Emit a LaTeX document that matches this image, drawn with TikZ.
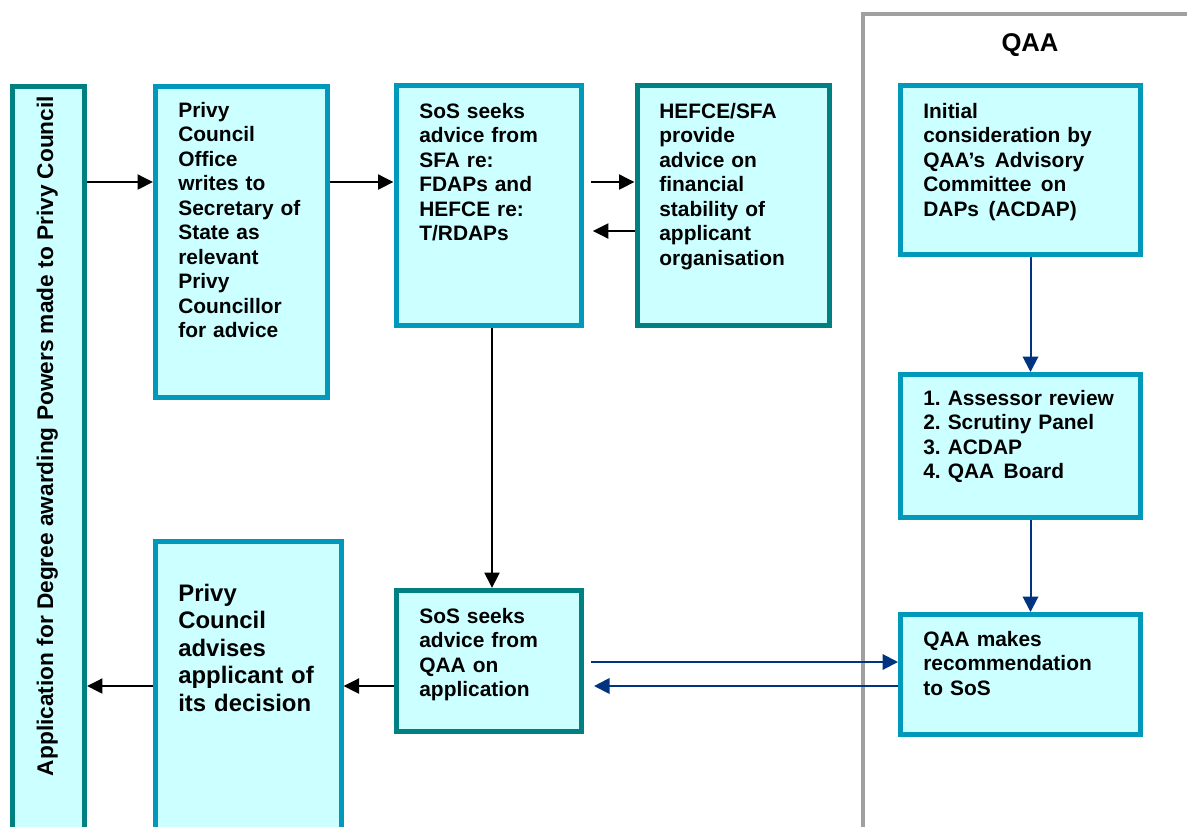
\documentclass[tikz,border=0pt]{standalone}
\usepackage{fontspec}
\setmainfont{Liberation Sans}
\usetikzlibrary{arrows.meta,fit,calc}
\definecolor{boxfill}{RGB}{204,255,255}
\definecolor{lightedge}{RGB}{0,153,187}
\definecolor{darkedge}{RGB}{0,128,128}
\definecolor{navyline}{RGB}{0,51,128}
\definecolor{qaagray}{RGB}{160,160,160}
\frenchspacing
\newcommand{\wsp}{\hspace{0.12em}\ }
\begin{document}
\begin{tikzpicture}[x=0.02cm,y=-0.02cm,
 boxbase/.style={rectangle,fill=boxfill,line width=0.1cm,inner sep=0pt},
 lbox/.style={boxbase,draw=lightedge},
 dbox/.style={boxbase,draw=darkedge},
 txt/.style={anchor=base west,inner sep=0pt,align=left,text width=4.2cm,font=\fontsize{11.9}{13.96}\selectfont\bfseries},
 bigtxt/.style={txt,font=\fontsize{13.6}{15.7}\selectfont\bfseries},
 blk/.style={line width=0.04cm,-{Triangle[length=0.31cm,width=0.3cm]}},
 nvy/.style={color=navyline,line width=0.04cm,-{Triangle[length=0.31cm,width=0.31cm]}}]
\useasboundingbox (0,0) rectangle (1187,826);

% QAA region border
\coordinate (gtop) at (863,14);
\coordinate (gbot) at (863,845);
\coordinate (gright) at (1195,14);
\draw[qaagray,line width=0.08cm] (gbot) -- (gtop) -- (gright);
\node[font=\fontsize{14.6}{17}\selectfont\bfseries,anchor=base,inner sep=0pt] (qaalabel) at (1030,51.5) {QAA};

% boxes
\node[dbox,fit={(12.5,86) (84.5,850)}] (appl) {};
\node[rotate=90,anchor=base,inner sep=0pt,font=\fontsize{12.9}{15}\selectfont\bfseries] (appltxt) at (53,436) {Application for Degree awarding Powers made to Privy Council};

\node[lbox,fit={(155.5,86) (327.5,397)}] (pco) {};
\node[txt] (pcotxt) at (178,117) {Privy\\Council\\Office\\writes to\\Secretary of\\State as\\relevant\\Privy\\Councillor\\for advice};

\node[lbox,fit={(396,85.5) (581.5,325.5)}] (sos1) {};
\node[txt] (sos1txt) at (419,118) {SoS seeks\\advice from\\SFA re:\\FDAPs and\\HEFCE re:\\T/RDAPs};

\node[dbox,fit={(637,85.5) (829.5,325.5)}] (hefce) {};
\node[txt] (hefcetxt) at (659,118) {HEFCE/SFA\\provide\\advice on\\financial\\stability of\\applicant\\organisation};

\node[lbox,fit={(900.5,85.5) (1140.5,254)}] (init) {};
\node[txt] (inittxt) at (923,118) {Initial\\consideration by\\QAA’s\wsp Advisory\\Committee\wsp on\\DAPs\wsp (ACDAP)};

\node[lbox,fit={(900.5,374.5) (1140.5,517.5)}] (assess) {};
\node[txt] (assesstxt) at (923,405) {1. Assessor review\\2. Scrutiny Panel\\3. ACDAP\\4. QAA\wsp Board};

\node[lbox,fit={(900.5,614.5) (1140.5,734.5)}] (qmake) {};
\node[txt] (qmaketxt) at (923,646) {QAA makes\\recommendation\\to SoS};

\node[dbox,fit={(396,590.5) (581,731)}] (sosq) {};
\node[txt] (sosqtxt) at (419,623) {SoS seeks\\advice from\\QAA on\\application};

\node[lbox,fit={(155.5,541.5) (341,860)}] (advise) {};
\node[bigtxt] (advisetxt) at (178,601) {Privy\\Council\\advises\\applicant of\\its decision};

% connectors
\draw[blk] (appl.east |- 0,182) -- (pco.west |- 0,182);
\draw[blk] (pco.east |- 0,182) -- (sos1.west |- 0,182);
\draw[blk] ([xshift=4]sos1.east |- 0,182) -- (hefce.west |- 0,182);
\draw[blk] (hefce.west |- 0,231) -- ([xshift=5]sos1.east |- 0,231);
\draw[blk] (492,0 |- sos1.south) -- (492,0 |- sosq.north);
\draw[blk] (sosq.west |- 0,686) -- (advise.east |- 0,686);
\draw[blk] (advise.west |- 0,686) -- (appl.east |- 0,686);

\draw[nvy] (1030.5,0 |- init.south) -- (1030.5,0 |- assess.north);
\draw[nvy] (1030.5,0 |- assess.south) -- (1030.5,0 |- qmake.north);
\draw[nvy] ([xshift=4]sosq.east |- 0,662) -- (qmake.west |- 0,662);
\draw[nvy] (qmake.west |- 0,686) -- ([xshift=6]sosq.east |- 0,686);
\end{tikzpicture}
\end{document}
